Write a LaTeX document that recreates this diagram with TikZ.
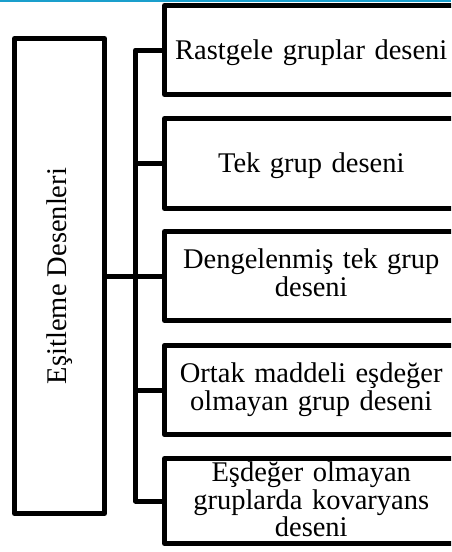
\documentclass[tikz,border=0pt]{standalone}
\usepackage{fontspec}
\setmainfont{Liberation Serif}
\definecolor{topblue}{HTML}{1A9FCC}
\begin{document}
\begin{tikzpicture}[x=1pt,y=-1pt,
  every node/.style={font=\fontsize{28.5}{27.5}\selectfont, inner sep=0pt, outer sep=0pt},
  frame/.style={draw=black, line width=5pt, line join=round},
  % text height/depth fix where the lines sit inside each box
  itembox/.style={frame, minimum width=293.5pt, text width=290pt, align=center,
                  text height=19.5pt, text depth=1.5pt},
  twolines/.style={text depth=34pt},
  threelines/.style={text depth=58.5pt},
  link/.style={draw=black, line width=5pt, line join=round}]
  % page and clipping
  \fill[white] (0,0) rectangle (451,552);
  \clip (0,0) rectangle (451,552);
  \useasboundingbox (0,0) rectangle (451,552);
  % thin coloured rule along the top edge
  \fill[topblue] (0,0) rectangle (451,2.2);

  % main (vertical) box
  \node[frame, minimum width=90pt, minimum height=475pt] (main) at (59.5,276) {};
  \node[rotate=90] (maintext) at (main.center) {Eşitleme Desenleri};

  % the five pattern boxes
  \node[itembox, minimum height=89pt] (b1) at (311.25,50) {Rastgele gruplar deseni};
  \node[itembox, minimum height=90pt] (b2) at (311.25,163.5) {Tek grup deseni};
  \node[itembox, twolines, minimum height=89pt] (b3) at (311.25,276) {Dengelenmiş tek grup\\deseni};
  \node[itembox, twolines, minimum height=89.5pt] (b4) at (311.25,390) {Ortak maddeli eşdeğer\\olmayan grup deseni};
  \node[itembox, threelines, minimum height=85pt] (b5) at (311.25,501) {Eşdeğer olmayan\\gruplarda kovaryans\\deseni};

  % bracket connecting the main box to every pattern box
  \draw[link] (b1.west) -- ++(-29,0) |- (b5.west);
  \draw[link] (main.east) -- (b3.west);
  \draw[link] (b2.west) -- ++(-29,0);
  \draw[link] (b4.west) -- ++(-29,0);
\end{tikzpicture}
\end{document}
